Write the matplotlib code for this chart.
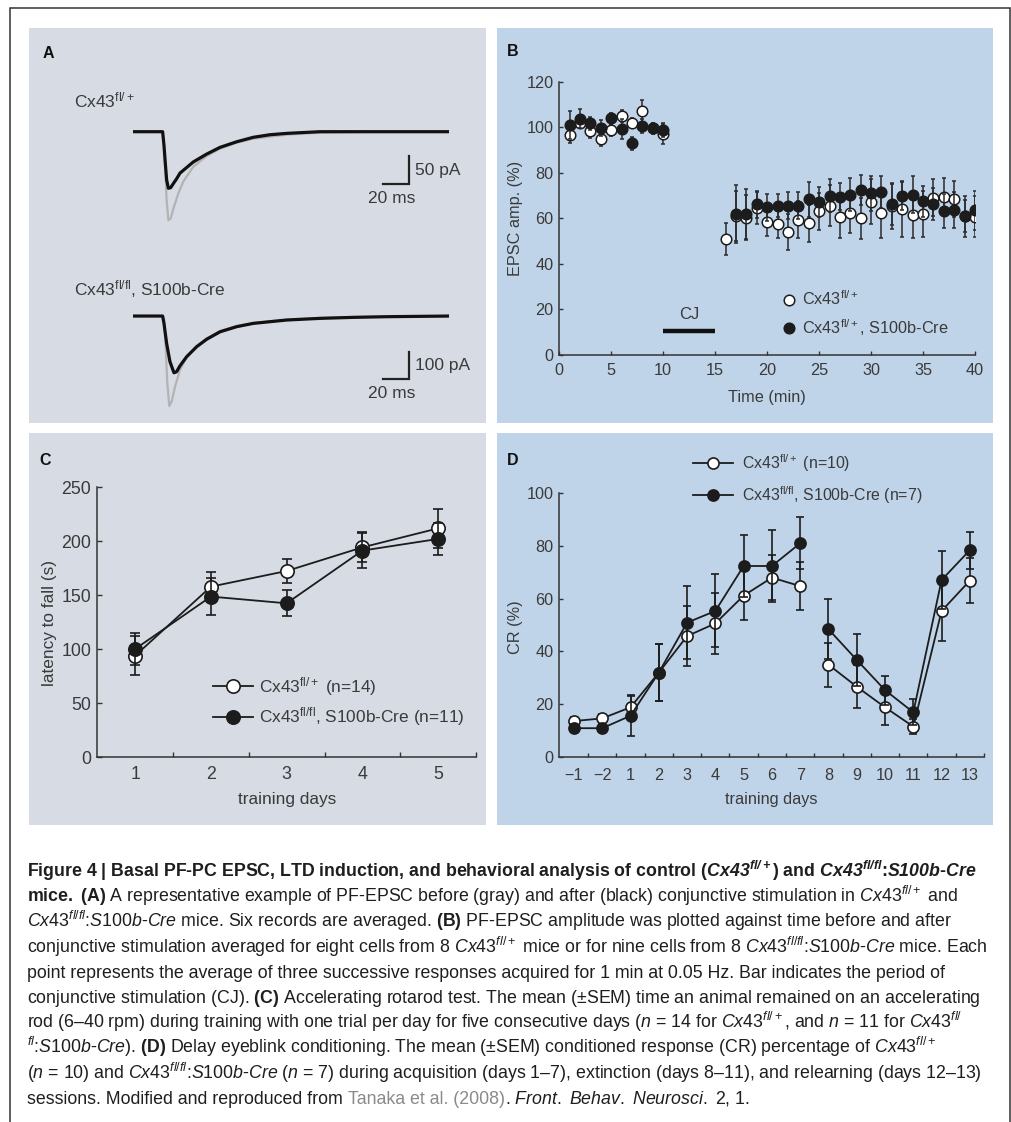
import matplotlib
matplotlib.use("Agg")
import matplotlib.pyplot as plt
from matplotlib import font_manager
from matplotlib.lines import Line2D
from matplotlib.patches import Rectangle

W, H = 1012, 1122

# ---- A: averaged PF-EPSC traces, time (ms) vs current (pA)
top_gray_t = [0, 22, 23, 24, 25, 26.3, 28, 30.5, 33.8, 37.5, 45, 55, 65, 77.5, 90, 115, 140, 165, 237]
top_gray_pa = [0, 0, -24, -68, -122, -158, -155, -134, -110, -89, -62.5, -43.5, -30.4, -19.6, -12.5, -5.4, -1.8, -0.6, 0]
top_black_t = [0, 22, 23, 24, 25, 26.3, 28, 30.5, 32.5, 35, 45, 55, 65, 77.5, 90, 102.5, 115, 140, 237]
top_black_pa = [0, 0, -24, -56, -86, -101, -100, -91, -84, -74, -54, -40, -28, -18, -10, -5.4, -3, 0, 0]
bot_gray_t = [0, 22, 23, 24.3, 25.5, 27, 28.8, 31.3, 35, 40, 47.5, 55, 65, 77.5, 90, 115, 140, 165, 237]
bot_gray_pa = [0, 0, -14, -111, -243, -325, -309, -255, -195, -149, -108, -81, -54, -36, -25, -13, -7, -3.6, 0]
bot_black_t = [0, 22, 23, 25, 27.5, 30.5, 32.5, 35, 40, 47.5, 55, 65, 77.5, 90, 115, 140, 165, 190, 237]
bot_black_pa = [0, 0, -26, -99, -165, -205, -201, -180, -147, -111, -84, -57, -38.5, -26.5, -14.4, -8.4, -4.8, -2.4, 0]
scale_ms = 20
scale_pa_top = 50
scale_pa_bot = 100

# ---- B: EPSC amplitude (%) vs time (min)
ctrl_min = list(range(1, 11)) + list(range(16, 41))
ctrl_amp = [96.4, 102, 98.2, 94.8, 98.8, 105, 102, 107.1, 99.5, 97,
            50.9, 61, 60.3, 64.4, 58.2, 57.4, 54, 59.4, 57.8, 63.1, 65.6, 60.4, 62.5,
            60, 67.3, 62.5, 65.5, 64, 61.5, 62, 69.1, 69.5, 68.6, 61, 60.7]
ctrl_sem = [3.5, 2.5, 3, 3, 2.5, 2.5, 2, 5, 2.5, 4.5,
            7, 11, 10, 7, 6, 6, 8, 8, 8, 8, 9, 9, 9, 9, 10, 11, 10, 12, 10, 10, 8, 8, 8, 7, 9]
cre_min = list(range(1, 11)) + list(range(17, 41))
cre_amp = [101, 103.8, 101.7, 99.8, 103.9, 99.2, 92.9, 100.5, 99.8, 98.8,
           61.8, 61.8, 66.1, 64.8, 65.6, 65.6, 65.6, 68.4, 67.2, 70, 69.5, 70.4,
           72.3, 71, 71.6, 66.1, 70, 70.4, 67.5, 66.3, 63.1, 63.7, 61, 63.5]
cre_sem = [6, 4, 3, 3.5, 2.5, 4.5, 3, 3, 2, 3,
           12.8, 11, 6, 6, 5, 5.8, 6, 7.7, 6.4, 7.3, 6, 7.2, 6.6, 7.7, 7.1, 9, 6.4, 8,
           6.8, 7, 7.5, 8, 9, 8.5]
cj_start, cj_end, cj_level = 10, 15, 10.5

# ---- C: rotarod latency to fall (s)
rotarod_days = [1, 2, 3, 4, 5]
rotarod_ctrl = [94.1, 158, 172.5, 194.4, 212]
rotarod_ctrl_sem = [18, 14, 11, 14, 18]
rotarod_cre = [100.3, 148.8, 142.6, 191.4, 202.2]
rotarod_cre_sem = [14.5, 17, 12, 16, 15]

# ---- D: eyeblink conditioning CR (%)
eb_labels = ["\u22121", "\u22122", "1", "2", "3", "4", "5", "6", "7", "8", "9", "10", "11", "12", "13"]
eb_ctrl = [13.7, 14.7, 18.9, 32, 45.8, 50.6, 61.1, 67.9, 64.7, 35, 26.7, 18.9, 11.6, 55.3, 66.8]
eb_ctrl_sem = [1.5, 1.5, 4.3, 10.7, 11.3, 11.6, 9.2, 8.5, 9, 8.3, 8.2, 6.7, 2.8, 11.3, 8.4]
eb_cre = [11, 11, 15.7, 32, 50.9, 55.3, 72.3, 72.3, 80.9, 48.4, 36.8, 25.4, 17, 67, 78.3]
eb_cre_sem = [1.5, 1.5, 7.7, 10.7, 13.8, 13.8, 11.7, 13.6, 9.8, 11.3, 9.8, 5.5, 4.9, 11.1, 7]
eb_segments = [(0, 9), (9, 15)]  # acquisition | extinction + relearning

caption_lines = [
  r"Figure 4 | Basal PF-PC EPSC, LTD induction, and behavioral analysis of control ($\mathbfit{Cx43}^{\mathbfit{fl/+}}$) and $\mathbfit{Cx43}^{\mathbfit{fl/fl}}$:$\mathbfit{S100b}$-$\mathbfit{Cre}$",
  r"$\mathbf{mice.\ (A)}$ A representative example of PF-EPSC before (gray) and after (black) conjunctive stimulation in $\mathit{Cx43}^{\mathit{fl/+}}$ and",
  r"$\mathit{Cx43}^{\mathit{fl/fl}}$:$\mathit{S100b}$-$\mathit{Cre}$ mice. Six records are averaged. $\mathbf{(B)}$ PF-EPSC amplitude was plotted against time before and after",
  r"conjunctive stimulation averaged for eight cells from 8 $\mathit{Cx43}^{\mathit{fl/+}}$ mice or for nine cells from 8 $\mathit{Cx43}^{\mathit{fl/fl}}$:$\mathit{S100b}$-$\mathit{Cre}$ mice. Each",
  "point represents the average of three successive responses acquired for 1 min at 0.05 Hz. Bar indicates the period of",
  r"conjunctive stimulation (CJ). $\mathbf{(C)}$ Accelerating rotarod test. The mean (±SEM) time an animal remained on an accelerating",
  r"rod (6–40 rpm) during training with one trial per day for five consecutive days ($\mathit{n}$ = 14 for $\mathit{Cx43}^{\mathit{fl/+}}$, and $\mathit{n}$ = 11 for $\mathit{Cx43}^{\mathit{fl/}}$",
  r"$^{\mathit{fl}}$:$\mathit{S100b}$-$\mathit{Cre}$). $\mathbf{(D)}$ Delay eyeblink conditioning. The mean (±SEM) conditioned response (CR) percentage of $\mathit{Cx43}^{\mathit{fl/+}}$",
  r"($\mathit{n}$ = 10) and $\mathit{Cx43}^{\mathit{fl/fl}}$:$\mathit{S100b}$-$\mathit{Cre}$ ($\mathit{n}$ = 7) during acquisition (days 1–7), extinction (days 8–11), and relearning (days 12–13)",
]
caption_last = ["sessions. Modified and reproduced from ", "Tanaka et al. (2008)",
                r". $\mathit{Front.\ Behav.\ Neurosci.}$ 2, 1."]
caption_right = [967, 953, 956, 997, 960, 990, 965, 938, 973]

installed = {f.name for f in font_manager.fontManager.ttflist}
BODY = "Liberation Sans"
NARROW = "Liberation Sans Narrow" if "Liberation Sans Narrow" in installed else BODY

plt.rcParams.update({
  "font.family": BODY,
  "mathtext.fontset": "custom",
  "mathtext.rm": NARROW,
  "mathtext.it": NARROW + ":italic",
  "mathtext.bf": NARROW + ":bold",
  "mathtext.bfit": NARROW + ":italic:bold",
})

GRAY_BG = "#d7dbe4"
BLUE_BG = "#c0d4e9"
DARK = "#1c1c1c"
AXC = "#333333"
TXT = "#3a3a3a"


def box(x0, y0, x1, y1):
  return [x0 / W, 1 - y1 / H, (x1 - x0) / W, (y1 - y0) / H]


def style(ax, size, xpad, ypad, tick_len):
  ax.set_facecolor("none")
  for s in ["top", "right"]:
    ax.spines[s].set_visible(False)
  for s in ["left", "bottom"]:
    ax.spines[s].set_color(AXC)
    ax.spines[s].set_linewidth(1.1)
  ax.tick_params(which="both", direction="in", width=1.0, colors=AXC, labelcolor=TXT, labelsize=size)
  ax.tick_params(which="major", length=tick_len)
  ax.tick_params(which="minor", length=tick_len)
  ax.tick_params(axis="x", pad=xpad)
  ax.tick_params(axis="y", pad=ypad)


fig = plt.figure(figsize=(W / 100, H / 100), dpi=100)
fig.patch.set_facecolor("white")

bg = fig.add_axes([0, 0, 1, 1], zorder=-1)
bg.set_xlim(0, W)
bg.set_ylim(H, 0)
bg.set_axis_off()
for (x0, y0, x1, y1), c in [((29, 28, 486, 423), GRAY_BG), ((497, 28, 993, 423), BLUE_BG),
                            ((29, 433, 486, 825), GRAY_BG), ((497, 433, 993, 825), BLUE_BG)]:
  bg.add_patch(Rectangle((x0, y0), x1 - x0, y1 - y0, color=c, lw=0))
bg.plot([10, 10, 1010, 1010], [H, 7.5, 7.5, H], color="#333333", lw=1.1, solid_joinstyle="miter")

for letter, x, y in [("A", 48, 53), ("B", 513, 51), ("C", 45, 460), ("D", 513, 460)]:
  bg.text(x, y, letter, fontsize=11.5, fontweight="bold", ha="center", va="center", color="#111111")

# ---- A
ax_t = fig.add_axes(box(133.3, 120.5, 449.3, 232.5))
ax_t.set_xlim(0, 237)
ax_t.set_ylim(-180, 20)
ax_t.set_axis_off()
ax_t.plot(top_gray_t, top_gray_pa, color="#b3b3b3", lw=1.6, solid_joinstyle="round")
ax_t.plot(top_black_t, top_black_pa, color="#111111", lw=2.3, solid_joinstyle="round")
ax_t.plot([207 - scale_ms, 207, 207], [-93.4, -93.4, -93.4 + scale_pa_top], color="#222222", lw=1.6,
          solid_joinstyle="miter", clip_on=False)
ax_t.text(211.5, -93.4 + scale_pa_top / 2, f"{scale_pa_top} pA", fontsize=12.5, color=TXT, va="center", ha="left")
ax_t.text(207 - scale_ms / 2 - 3, -118.4, f"{scale_ms} ms", fontsize=12.5, color=TXT, va="center", ha="center")

ax_b2 = fig.add_axes(box(133.3, 310.5, 449.3, 415.7))
ax_b2.set_xlim(0, 237)
ax_b2.set_ylim(-360, 20)
ax_b2.set_axis_off()
ax_b2.plot(bot_gray_t, bot_gray_pa, color="#b3b3b3", lw=1.6, solid_joinstyle="round")
ax_b2.plot(bot_black_t, bot_black_pa, color="#111111", lw=2.3, solid_joinstyle="round")
ax_b2.plot([207 - scale_ms, 207, 207], [-228.5, -228.5, -228.5 + scale_pa_bot], color="#222222", lw=1.6,
           solid_joinstyle="miter", clip_on=False)
ax_b2.text(211.5, -228.5 + scale_pa_bot / 2, f"{scale_pa_bot} pA", fontsize=12.5, color=TXT, va="center", ha="left")
ax_b2.text(207 - scale_ms / 2 - 3, -279, f"{scale_ms} ms", fontsize=12.5, color=TXT, va="center", ha="center")

bg.text(74, 100, r"Cx43$^{\mathregular{fl/+}}$", fontsize=12.5, color=TXT, va="center")
bg.text(74, 289, r"Cx43$^{\mathregular{fl/fl}}$, S100b-Cre", fontsize=12.5, color=TXT, va="center")

# ---- B
axB = fig.add_axes(box(559.3, 81.7, 975, 355))
style(axB, 11.7, 6, 4, 3)
axB.errorbar(ctrl_min, ctrl_amp, yerr=ctrl_sem, fmt="o", ms=7.6, mfc="white", mec=DARK, mew=1.1,
             ecolor="#2a2a2a", elinewidth=1.1, capsize=1.6, capthick=1.0, zorder=3)
axB.errorbar(cre_min, cre_amp, yerr=cre_sem, fmt="o", ms=7.6, mfc=DARK, mec=DARK, mew=1.1,
             ecolor="#2a2a2a", elinewidth=1.1, capsize=1.6, capthick=1.0, zorder=4)
axB.plot([cj_start, cj_end], [cj_level, cj_level], color="#111111", lw=3.2, solid_capstyle="butt")
axB.text((cj_start + cj_end) / 2, 17.6, "CJ", fontsize=12, color=TXT, ha="center", va="center")
axB.set_xlim(0, 40)
axB.set_ylim(0, 120)
axB.set_xticks(range(0, 41, 5))
axB.set_yticks(range(0, 121, 20))
hB = [Line2D([], [], ls="none", marker="o", ms=7.6, mfc="white", mec=DARK, mew=1.1),
      Line2D([], [], ls="none", marker="o", ms=7.6, mfc=DARK, mec=DARK, mew=1.1)]
axB.legend(hB, [r"Cx43$^{\mathregular{fl/+}}$", r"Cx43$^{\mathregular{fl/+}}$, S100b-Cre"],
           loc="center left", bbox_to_anchor=(0.533, 0.1506), frameon=False, handlelength=1.0,
           handletextpad=0.27, labelspacing=0.55, borderpad=0, borderaxespad=0, fontsize=11.7,
           labelcolor=TXT)
bg.text(516, 218, "EPSC amp. (%)", rotation=90, fontsize=11.7, color=TXT, ha="center", va="center")
bg.text(767, 397, "Time (min)", fontsize=11.7, color=TXT, ha="center", va="center")

# ---- C
axC = fig.add_axes(box(97.3, 487.3, 476, 757.3))
style(axC, 12.8, 6.5, 4.5, 3.6)
axC.plot(rotarod_days, rotarod_ctrl, color=DARK, lw=1.3, zorder=2)
axC.errorbar(rotarod_days, rotarod_ctrl, yerr=rotarod_ctrl_sem, fmt="none", ecolor=DARK, elinewidth=1.2,
             capsize=3.6, capthick=1.2, zorder=2)
axC.plot(rotarod_days, rotarod_ctrl, ls="none", marker="o", ms=9.6, mfc="white", mec=DARK, mew=1.2, zorder=3)
axC.plot(rotarod_days, rotarod_cre, color=DARK, lw=1.3, zorder=4)
axC.errorbar(rotarod_days, rotarod_cre, yerr=rotarod_cre_sem, fmt="none", ecolor=DARK, elinewidth=1.2,
             capsize=3.6, capthick=1.2, zorder=4)
axC.plot(rotarod_days, rotarod_cre, ls="none", marker="o", ms=9.6, mfc=DARK, mec=DARK, mew=1.2, zorder=5)
axC.set_xlim(0.5, 5.5)
axC.set_ylim(0, 250)
axC.set_xticks(rotarod_days)
axC.set_xticks([d + 0.5 for d in rotarod_days], minor=True)
axC.tick_params(axis="x", which="major", length=0)
axC.set_yticks(range(0, 251, 50))
hC = [Line2D([], [], color=DARK, lw=1.3, marker="o", ms=9.6, mfc="white", mec=DARK, mew=1.2),
      Line2D([], [], color=DARK, lw=1.3, marker="o", ms=9.6, mfc=DARK, mec=DARK, mew=1.2)]
axC.legend(hC, [r"Cx43$^{\mathregular{fl/+}}$ (n=14)", r"Cx43$^{\mathregular{fl/fl}}$, S100b-Cre (n=11)"],
           loc="center left", bbox_to_anchor=(0.305, 0.207), frameon=False, handlelength=2.35,
           handletextpad=0.35, labelspacing=0.45, borderpad=0, borderaxespad=0, fontsize=12.4,
           labelcolor=TXT)
bg.text(49.3, 623, "latency to fall (s)", rotation=90, fontsize=12.4, color=TXT, ha="center", va="center")
bg.text(286.7, 799.3, "training days", fontsize=12.4, color=TXT, ha="center", va="center")

# ---- D
axD = fig.add_axes(box(558.7, 492.7, 984, 757.3))
style(axD, 11.7, 7.5, 3.8, 3)
pos = list(range(len(eb_labels)))
for series, sem, face, z in [(eb_ctrl, eb_ctrl_sem, "white", 2), (eb_cre, eb_cre_sem, DARK, 4)]:
  for a, b in eb_segments:
    axD.plot(pos[a:b], series[a:b], color=DARK, lw=1.3, zorder=z)
  axD.errorbar(pos, series, yerr=sem, fmt="none", ecolor=DARK, elinewidth=1.2, capsize=2.9,
               capthick=1.2, zorder=z)
  axD.plot(pos, series, ls="none", marker="o", ms=8.0, mfc=face, mec=DARK, mew=1.2, zorder=z + 1)
axD.set_xlim(-0.54, len(eb_labels) - 0.5)
axD.set_ylim(0, 100)
axD.set_xticks(pos)
axD.set_xticklabels(eb_labels)
axD.set_xticks([p + 0.5 for p in pos], minor=True)
axD.tick_params(axis="x", which="major", length=0)
axD.set_yticks(range(0, 101, 20))
hD = [Line2D([], [], color=DARK, lw=1.3, marker="o", ms=8.0, mfc="white", mec=DARK, mew=1.2),
      Line2D([], [], color=DARK, lw=1.3, marker="o", ms=8.0, mfc=DARK, mec=DARK, mew=1.2)]
axD.legend(hD, [r"Cx43$^{\mathregular{fl/+}}$ (n=10)", r"Cx43$^{\mathregular{fl/fl}}$, S100b-Cre (n=7)"],
           loc="center left", bbox_to_anchor=(0.3165, 1.0525), frameon=False, handlelength=2.53,
           handletextpad=0.53, labelspacing=0.65, borderpad=0, borderaxespad=0, fontsize=11.4,
           labelcolor=TXT)
bg.text(516, 626.7, "CR (%)", rotation=90, fontsize=11.7, color=TXT, ha="center", va="center")
bg.text(771.7, 799.3, "training days", fontsize=11.7, color=TXT, ha="center", va="center")

# ---- caption, sized so the lines fill the measured widths
fs0 = 11
cap = []
for i, line in enumerate(caption_lines):
  cap.append(bg.text(27, 877 + 25.2 * i, line, fontsize=fs0, family=NARROW, va="baseline",
                     fontweight="bold" if i == 0 else "normal", color="#1e1e1e"))
last = []
for j, piece in enumerate(caption_last):
  last.append(bg.text(27, 877 + 25.2 * len(caption_lines), piece, fontsize=fs0, family=NARROW,
                      va="baseline", color="#8a8a8a" if j == 1 else "#1e1e1e"))

renderer = fig.canvas.get_renderer()
widths = [t.get_window_extent(renderer).width for t in cap]
scale = sum(r - 27 for r in caption_right) / sum(widths)
for t in cap + last:
  t.set_fontsize(fs0 * scale)
x = 27
for t in last:
  t.set_x(x)
  x += t.get_window_extent(renderer).width

fig.savefig("out.png", dpi=100, facecolor="white")
